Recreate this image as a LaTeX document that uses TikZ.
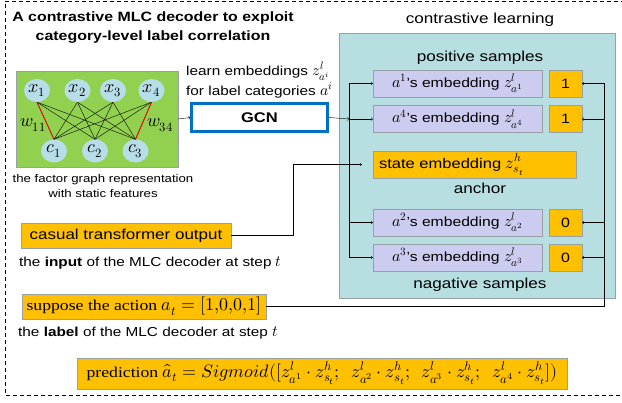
\documentclass[tikz,border=0pt]{standalone}
\usepackage{amsmath}
\usepackage{fontspec}
\usepackage{unicode-math}
\setmainfont{Liberation Sans}[FakeStretch=1.18]
\newfontfamily\serifpart{Liberation Serif}[FakeStretch=1.18]
\setmathfont{Latin Modern Math}[Scale=1.2]
\usetikzlibrary{positioning,shapes.geometric}

\definecolor{leafgreen}{RGB}{146,208,80}
\definecolor{bubble}{RGB}{183,221,232}
\definecolor{tealbg}{RGB}{183,223,226}
\definecolor{lavender}{RGB}{204,204,240}
\definecolor{amber}{RGB}{255,192,0}
\definecolor{gcnblue}{RGB}{0,112,192}
\definecolor{edgegray}{RGB}{150,160,165}

\begin{document}
\begin{tikzpicture}[x=1pt,y=-1pt,
  bubble/.style={ellipse,fill=bubble,minimum width=26pt,minimum height=23pt,inner sep=0pt,font=\fontsize{15}{15}\selectfont},
  lavbox/.style={draw=edgegray,fill=lavender,minimum width=169pt,minimum height=27pt,inner sep=0pt,font=\fontsize{13.3}{13.3}\selectfont},
  flagbox/.style={draw=edgegray,fill=amber,minimum width=33pt,minimum height=27pt,inner sep=0pt,font=\fontsize{13.5}{13.5}\selectfont},
  ambox/.style={draw=edgegray,fill=amber,inner sep=0pt},
  note/.style={inner sep=0pt,font=\fontsize{13}{15}\selectfont},
  heading/.style={inner sep=0pt,font=\fontsize{14.5}{15}\selectfont}]

\useasboundingbox (0,0) rectangle (622,403);
\clip (0,0) rectangle (622,403);

% Outer frame (its right side lies beyond the page)
\draw[dash pattern=on 4pt off 3pt] (660,1.5) -- (5,1.5) -- (5,395) -- (660,395);

% Title
\node[font=\bfseries\fontsize{13.5}{19}\selectfont,align=center] (title) at (153,27.5)
  {A contrastive MLC decoder to exploit\\category-level label correlation};

% The factor graph
\node[draw=edgegray,fill=leafgreen,minimum width=162pt,minimum height=96pt,inner sep=0pt] (fg) at (97,119) {};
\foreach \i/\xx in {1/37,2/77.5,3/113,4/151.5}
  \node[bubble] (x\i) at (\xx,90.5) {$x_\i$};
\foreach \j/\xx in {1/54,2/95,3/135.5}
  \node[bubble] (c\j) at (\xx,151) {$c_\j$};
\foreach \i in {1,...,4}
  \foreach \j in {1,2,3}
    \draw (x\i.south) -- (c\j.north);
\draw[red,thick] (x1.south) -- (c1.north);
\draw[red,thick] (x4.south) -- (c3.north);
\node[font=\fontsize{15}{15}\selectfont] (w11) at (33,125) {$w_{11}$};
\node[font=\fontsize{15}{15}\selectfont] (w34) at (160,125) {$w_{34}$};
\node[note,align=center,font=\fontsize{11.2}{15}\selectfont] (fgcap) at (103,185.5)
  {the factor graph representation\\with static features};

% GCN
\node[note,anchor=west,align=left,font=\fontsize{13}{20}\selectfont] (learn) at (186,80)
  {learn embeddings $z^l_{a^i}$\\for label categories $a^i$};
\node[draw=gcnblue,line width=2.5pt,minimum width=136pt,minimum height=28pt,font=\bfseries\fontsize{14}{14}\selectfont] (gcn) at (259.5,117.5) {GCN};
\draw[->] (fg.east) -- (gcn.west);

% Contrastive learning
\node[draw=edgegray,fill=tealbg,minimum width=276pt,minimum height=265pt,inner sep=0pt] (cl) at (477,165.5) {};
\node[heading] (cltitle) at (480,20) {contrastive learning};
\node[heading] (pos) at (480,58) {positive samples};
\node[lavbox] (a1) at (457.5,83.5) {$a^1$'s embedding $z^l_{a^1}$};
\node[flagbox] (f1) at (565.5,83.5) {1};
\node[lavbox] (a4) at (457.5,119) {$a^4$'s embedding $z^l_{a^4}$};
\node[flagbox] (f4) at (565.5,119) {1};
\node[ambox,minimum height=27pt,text width=191pt,inner xsep=6pt,align=left,font=\fontsize{14}{14}\selectfont] (state) at (474.5,164.5)
  {state embedding $z^h_{s_t}$};
\node[heading] (anchor) at (480,188) {anchor};
\node[lavbox] (a2) at (457.5,222.5) {$a^2$'s embedding $z^l_{a^2}$};
\node[flagbox] (f2) at (565.5,222.5) {0};
\node[lavbox] (a3) at (457.5,257.5) {$a^3$'s embedding $z^l_{a^3}$};
\node[flagbox] (f3) at (565.5,257.5) {0};
\node[heading] (neg) at (480,285) {nagative samples};

% Inputs and labels
\node[ambox,minimum width=210pt,minimum height=25pt,font=\fontsize{14.4}{14.4}\selectfont] (casual) at (126,235.5) {casual transformer output};
\node[note,anchor=west] (inputnote) at (19,263) {the \textbf{input} of the MLC decoder at step $t$};
\node[ambox,minimum width=244pt,minimum height=25pt,font=\serifpart\fontsize{15}{15}\selectfont] (act) at (144,306.5)
  {suppose the action $a_t=[1{,}0{,}0{,}1]$};
\node[note,anchor=west] (labelnote) at (18,333) {the \textbf{label} of the MLC decoder at step $t$};
\node[ambox,minimum width=490pt,minimum height=31pt,font=\serifpart\fontsize{15}{15}\selectfont] (pred) at (322,373.5)
  {prediction $\hat{a}_t = Sigmoid([z^l_{a^1}\cdot z^h_{s_t};\ \ z^l_{a^2}\cdot z^h_{s_t};\ \ z^l_{a^3}\cdot z^h_{s_t};\ \ z^l_{a^4}\cdot z^h_{s_t}])$};

% Connectors
\coordinate (lbus) at (349,119);
\coordinate (rbus) at (604,119);
\coordinate (bend) at (293,165);
\draw[->] (gcn.east) -- (lbus);
\draw (lbus |- a1.west) -- (lbus |- a3.west);
\foreach \n in {a1,a4,a2,a3}
  \draw[->] (lbus |- \n.west) -- (\n.west);
\draw[->,shorten >=11pt] (casual.east) -- (casual.east -| bend) -- (bend |- state.west) -- (state.west);
\draw (act.east) -- (act.east -| rbus) -- (rbus |- f1.east);
\foreach \n in {f1,f4,f2,f3}
  \draw[->] (rbus |- \n.east) -- (\n.east);

\end{tikzpicture}
\end{document}
